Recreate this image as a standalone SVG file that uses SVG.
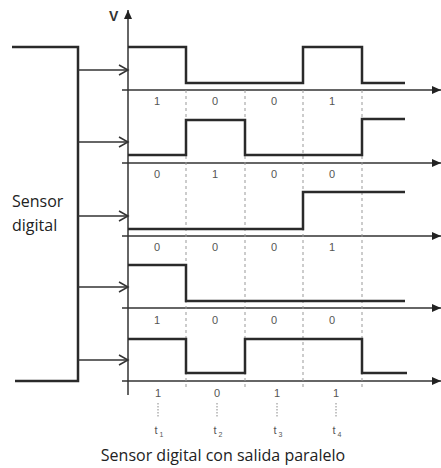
<svg xmlns="http://www.w3.org/2000/svg" width="441" height="468" viewBox="0 0 441 468">
<defs>
<marker id="open" markerWidth="12" markerHeight="12" refX="10" refY="6" orient="auto" markerUnits="userSpaceOnUse">
<path d="M1,1 L10,6 L1,11" fill="none" stroke="#333" stroke-width="1.5"/>
</marker>
<marker id="solid" markerWidth="10" markerHeight="10" refX="9" refY="5" orient="auto" markerUnits="userSpaceOnUse">
<path d="M0,1 L9,5 L0,9 Z" fill="#222"/>
</marker>
</defs>
<style>
.sig{fill:none;stroke:#2a2a2a;stroke-width:2.5}
.ax{fill:none;stroke:#333;stroke-width:1.5}
.arr{fill:none;stroke:#333;stroke-width:1.5}
.dash{stroke:#999;stroke-width:1;stroke-dasharray:3,3}
.dot{stroke:#888;stroke-width:1;stroke-dasharray:1.5,1.5}
.lbl{font-family:"Liberation Sans",Arial,sans-serif;font-size:11px;fill:#555;text-anchor:middle}
.big{font-family:"Open Sans","Noto Sans",sans-serif;font-size:16px;fill:#222}
</style>
<g id="sensor">
<polyline class="sig" points="12,47 78,47 78,381 15,381"/>
<text class="big" x="12" y="207">Sensor</text>
<text class="big" x="12" y="231">digital</text>
</g>
<g id="connectors">
<line class="arr" x1="78" y1="70" x2="128" y2="70" marker-end="url(#open)"/>
<line class="arr" x1="78" y1="142" x2="128" y2="142" marker-end="url(#open)"/>
<line class="arr" x1="78" y1="216" x2="128" y2="216" marker-end="url(#open)"/>
<line class="arr" x1="78" y1="287" x2="128" y2="287" marker-end="url(#open)"/>
<line class="arr" x1="78" y1="360" x2="128" y2="360" marker-end="url(#open)"/>
</g>
<g id="axes">
<line class="ax" x1="128" y1="395" x2="128" y2="10" marker-end="url(#solid)"/>
<text x="109" y="21" font-family="Liberation Sans,Arial,sans-serif" font-size="14" font-weight="bold" fill="#333">V</text>
<line class="ax" x1="122" y1="90" x2="441" y2="90" marker-end="url(#solid)"/>
<line class="ax" x1="122" y1="163" x2="441" y2="163" marker-end="url(#solid)"/>
<line class="ax" x1="122" y1="236" x2="441" y2="236" marker-end="url(#solid)"/>
<line class="ax" x1="122" y1="308" x2="441" y2="308" marker-end="url(#solid)"/>
<line class="ax" x1="122" y1="381" x2="441" y2="381" marker-end="url(#solid)"/>
</g>
<g id="grid">
<line class="dash" x1="186" y1="90" x2="186" y2="387"/>
<line class="dash" x1="245" y1="90" x2="245" y2="387"/>
<line class="dash" x1="303" y1="90" x2="303" y2="387"/>
<line class="dash" x1="362" y1="90" x2="362" y2="387"/>
</g>
<g id="signal1">
<polyline class="sig" points="128,47 186,47 186,83 303,83 303,47 362,47 362,83 405,83"/>
<text class="lbl" x="157" y="105">1</text><text class="lbl" x="215" y="105">0</text><text class="lbl" x="274" y="105">0</text><text class="lbl" x="332" y="105">1</text>
</g>
<g id="signal2">
<polyline class="sig" points="128,155 186,155 186,120 245,120 245,155 362,155 362,119 405,119"/>
<text class="lbl" x="157" y="178">0</text><text class="lbl" x="215" y="178">1</text><text class="lbl" x="274" y="178">0</text><text class="lbl" x="332" y="178">0</text>
</g>
<g id="signal3">
<polyline class="sig" points="128,229 303,229 303,192 405,192"/>
<text class="lbl" x="157" y="251">0</text><text class="lbl" x="215" y="251">0</text><text class="lbl" x="274" y="251">0</text><text class="lbl" x="332" y="251">1</text>
</g>
<g id="signal4">
<polyline class="sig" points="128,265 186,265 186,301 405,301"/>
<text class="lbl" x="157" y="324">1</text><text class="lbl" x="215" y="324">0</text><text class="lbl" x="274" y="324">0</text><text class="lbl" x="332" y="324">0</text>
</g>
<g id="signal5">
<polyline class="sig" points="128,339 186,339 186,373 245,373 245,339 362,339 362,373 407,373"/>
<text class="lbl" x="158" y="397">1</text><text class="lbl" x="217" y="397">0</text><text class="lbl" x="277" y="397">1</text><text class="lbl" x="336" y="397">1</text>
</g>
<g id="times">
<line class="dot" x1="158" y1="403" x2="158" y2="418"/>
<line class="dot" x1="217" y1="403" x2="217" y2="418"/>
<line class="dot" x1="277" y1="403" x2="277" y2="418"/>
<line class="dot" x1="336" y1="403" x2="336" y2="418"/>
<text class="lbl" x="159" y="434">t<tspan font-size="7" dy="3"> 1</tspan></text>
<text class="lbl" x="218" y="434">t<tspan font-size="7" dy="3"> 2</tspan></text>
<text class="lbl" x="278" y="434">t<tspan font-size="7" dy="3"> 3</tspan></text>
<text class="lbl" x="337" y="434">t<tspan font-size="7" dy="3"> 4</tspan></text>
</g>
<text class="big" x="223" y="461" text-anchor="middle">Sensor digital con salida paralelo</text>
</svg>
